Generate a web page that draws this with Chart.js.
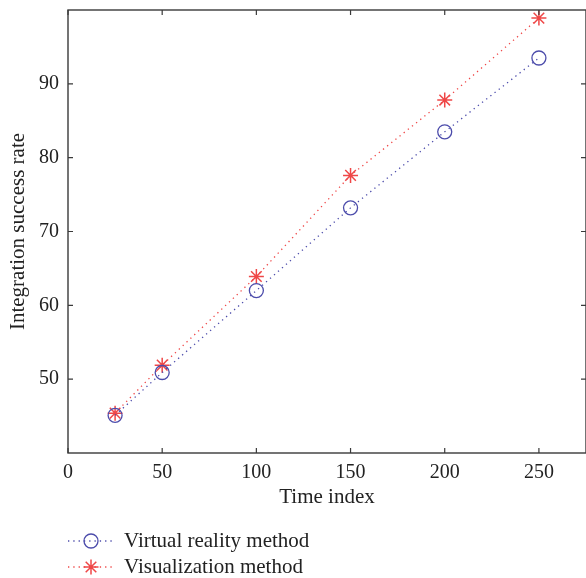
<!DOCTYPE html>
<html>
<head>
<meta charset="utf-8">
<script src="https://cdn.jsdelivr.net/npm/chart.js@4"></script>
<style>
  html, body { margin: 0; padding: 0; background: #fff; overflow: hidden; }
  canvas { display: block; }
</style>
</head>
<body>
<canvas id="chart" width="586" height="578"></canvas>
<script>
// valores
const tempos = [25, 50, 100, 150, 200, 250];
const realidadeVirtual = [45.1, 50.9, 62.0, 73.2, 83.5, 93.5];
const visualizacao = [45.4, 51.9, 63.9, 77.6, 87.8, 98.9];
const ticksX = [0, 50, 100, 150, 200, 250];
const ticksY = [50, 60, 70, 80, 90];
const nomes = ['Virtual reality method', 'Visualization method'];

const FONTE = '"Liberation Serif", "DejaVu Serif", serif';
const AZUL = '#4c4cab';
const VERMELHO = '#ef4747';
const EIXO = '#3a3a3a';

const pts = ys => tempos.map((t, i) => ({ x: t, y: ys[i] }));

// caixa com marcas para dentro + legenda embaixo
const caixaPlugin = {
  id: 'caixa',
  afterDraw(chart) {
    const { ctx, chartArea: a, scales } = chart;
    ctx.save();
    ctx.strokeStyle = EIXO;
    ctx.lineWidth = 1.4;
    ctx.strokeRect(a.left, a.top, a.right - a.left, a.bottom - a.top);
    ctx.lineWidth = 1.2;
    ctx.beginPath();
    ticksX.forEach(v => {
      const x = scales.x.getPixelForValue(v);
      ctx.moveTo(x, a.bottom); ctx.lineTo(x, a.bottom - 5);
      ctx.moveTo(x, a.top); ctx.lineTo(x, a.top + 5);
    });
    ticksY.forEach(v => {
      const y = scales.y.getPixelForValue(v);
      ctx.moveTo(a.left, y); ctx.lineTo(a.left + 5, y);
      ctx.moveTo(a.right, y); ctx.lineTo(a.right - 5, y);
    });
    ctx.stroke();

    // legenda
    const linhas = [541, 567];
    chart.data.datasets.forEach((ds, i) => {
      const y = linhas[i];
      ctx.strokeStyle = ds.borderColor;
      ctx.lineWidth = ds.borderWidth;
      ctx.setLineDash(ds.borderDash);
      ctx.beginPath();
      ctx.moveTo(68, y); ctx.lineTo(113, y);
      ctx.stroke();
      ctx.setLineDash([]);
      ctx.fillStyle = 'rgba(0,0,0,0)';
      ctx.strokeStyle = ds.pointBorderColor;
      ctx.lineWidth = ds.pointBorderWidth;
      Chart.helpers.drawPoint(ctx, { pointStyle: ds.pointStyle, radius: ds.pointRadius, rotation: 0, borderWidth: ds.pointBorderWidth }, 91, y);
      ctx.fillStyle = '#222';
      ctx.font = '21px ' + FONTE;
      ctx.textBaseline = 'middle';
      ctx.textAlign = 'left';
      ctx.fillText(nomes[i], 124, y);
    });
    ctx.restore();
  }
};

new Chart(document.getElementById('chart'), {
  type: 'line',
  data: {
    datasets: [
      {
        label: nomes[0], data: pts(realidadeVirtual),
        borderColor: AZUL, borderWidth: 1.3, borderDash: [1.3, 4],
        pointStyle: 'circle', pointRadius: 7, pointBorderColor: AZUL,
        pointBackgroundColor: 'rgba(0,0,0,0)', pointBorderWidth: 1.3, tension: 0
      },
      {
        label: nomes[1], data: pts(visualizacao),
        borderColor: VERMELHO, borderWidth: 1.3, borderDash: [1.3, 4],
        pointStyle: 'star', pointRadius: 7.5, pointBorderColor: VERMELHO,
        pointBackgroundColor: 'rgba(0,0,0,0)', pointBorderWidth: 1.5, tension: 0
      }
    ]
  },
  options: {
    responsive: false,
    animation: false,
    layout: { autoPadding: false, padding: { top: 10, right: -3, bottom: 68, left: 0 } },
    plugins: { legend: { display: false }, tooltip: { enabled: false } },
    scales: {
      x: {
        type: 'linear', min: 0, max: 275,
        afterBuildTicks: s => { s.ticks = ticksX.map(v => ({ value: v })); },
        afterFit: s => { s.height = 57; s.paddingLeft = 0; s.paddingRight = 0; },
        grid: { display: false, drawTicks: false },
        border: { display: false },
        ticks: { color: '#222', padding: 8, font: { family: FONTE, size: 20 } },
        title: { display: true, text: 'Time index', color: '#222', padding: 0, font: { family: FONTE, size: 21 } }
      },
      y: {
        min: 40, max: 100,
        afterBuildTicks: s => { s.ticks = ticksY.map(v => ({ value: v })); },
        afterFit: s => { s.width = 68; s.paddingTop = 0; s.paddingBottom = 0; },
        grid: { display: false, drawTicks: false },
        border: { display: false },
        ticks: { color: '#222', padding: 9, font: { family: FONTE, size: 20 } },
        title: { display: true, text: 'Integration success rate', color: '#222', padding: { top: 6, bottom: 0 }, font: { family: FONTE, size: 21 } }
      }
    }
  },
  plugins: [caixaPlugin]
});
</script>
</body>
</html>
